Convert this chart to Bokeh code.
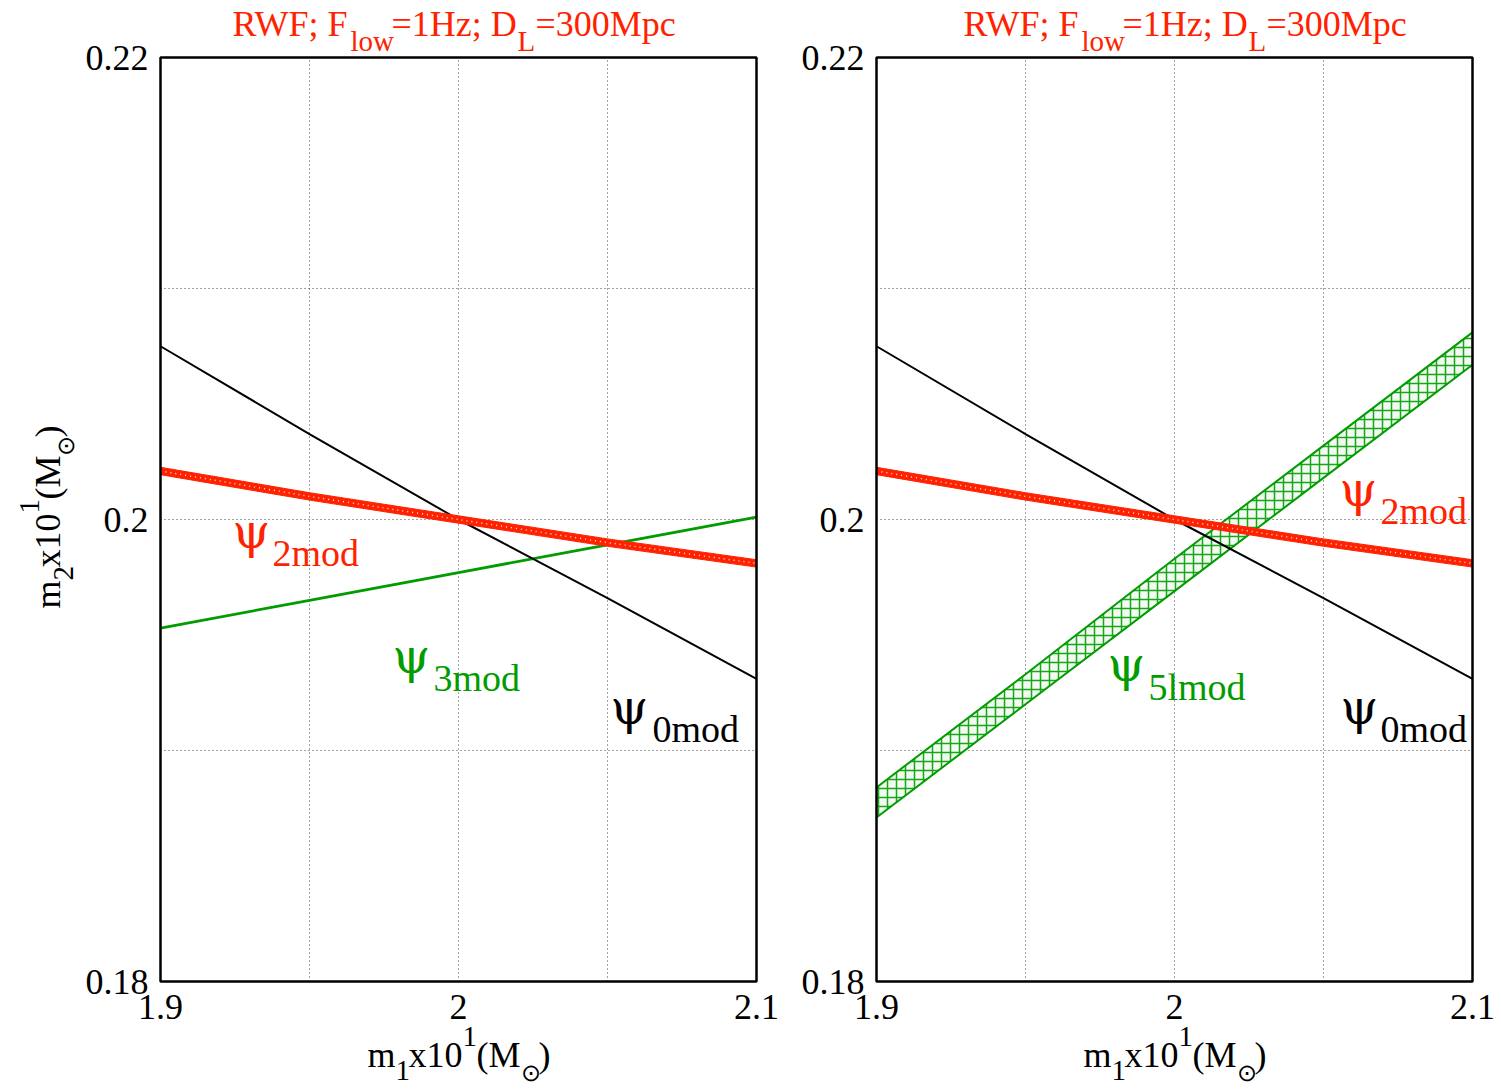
import math
from bokeh.plotting import figure
from bokeh.models import Label, Range1d
from bokeh.core.properties import value
from bokeh.embed import file_html
from bokeh.resources import INLINE

# ---------------- data ----------------
m1 = [1.90, 1.95, 2.00, 2.05, 2.10]
psi0_m2 = [0.2075, 0.2037, 0.2000, 0.1966, 0.1931]
psi2_upper = [0.20226, 0.20116, 0.20016, 0.19916, 0.19826]
psi2_lower = [0.20194, 0.20084, 0.19984, 0.19884, 0.19794]
psi3_m2 = [0.1953, 0.1965, 0.1977, 0.1989, 0.2001]
psi5l_upper = [0.1884, 0.1933, 0.1983, 0.2032, 0.2081]
psi5l_lower = [0.1871, 0.1920, 0.1969, 0.2018, 0.2067]

x_ticks = [1.9, 2.0, 2.1]
x_tick_labels = ["1.9", "2", "2.1"]
x_grid = [1.9, 1.95, 2.0, 2.05, 2.1]
y_ticks = [0.18, 0.20, 0.22]
y_tick_labels = ["0.18", "0.2", "0.22"]
y_grid = [0.18, 0.19, 0.20, 0.21, 0.22]

RED = "#ff2200"
GREEN = "#009c00"
FONT = "Liberation Serif"
PSI_FONT = "DejaVu Serif"

# ---------------- geometry (page pixels) ----------------
CW, CH = 1496, 1088
PANEL_X = {"L": (160, 756), "R": (876, 1472)}
PANEL_Y = (57, 981)
xa, xb = min(x_ticks), max(x_ticks)
ya, yb = min(y_ticks), max(y_ticks)
BASE = 0.37  # label anchor -> baseline correction (fraction of font size)


def xr(name):
    p0, p1 = PANEL_X[name]
    s = (xb - xa) / (p1 - p0)
    return Range1d(xa - p0 * s, xb + (CW - p1) * s)


sy_ = (yb - ya) / (PANEL_Y[1] - PANEL_Y[0])
y_range = Range1d(ya - (CH - PANEL_Y[1]) * sy_, yb + PANEL_Y[0] * sy_)

p = figure(width=CW, height=CH, min_border=0, min_border_left=0, min_border_right=0,
           min_border_top=0, min_border_bottom=0, x_axis_type=None, y_axis_type=None,
           x_range=xr("L"), y_range=y_range,
           extra_x_ranges={"L": xr("L"), "R": xr("R")},
           output_backend="svg", toolbar_location=None)
p.outline_line_color = None
p.background_fill_color = "white"
p.border_fill_color = "white"


def label(text, size, x, ybase, color, font=FONT):
    p.add_layout(Label(x=x, y=CH - (ybase - BASE * size), x_units="screen", y_units="screen",
                       text=text, text_font=font, text_font_size=f"{size}px",
                       text_color=color, text_baseline="alphabetic", text_align="left"))


def vlabel(text, size, xbase, ystart, color):
    p.add_layout(Label(x=xbase - BASE * size, y=CH - ystart, x_units="screen", y_units="screen",
                       angle=math.pi / 2, text=text, text_font=FONT, text_font_size=f"{size}px",
                       text_color=color, text_baseline="alphabetic", text_align="left"))


def panel_frame(name):
    n = len(x_grid)
    m = len(y_grid)
    p.segment(x0=x_grid, x1=x_grid, y0=[ya] * n, y1=[yb] * n, x_range_name=name,
              line_color="#444444", line_dash="1 3", line_width=1)
    p.segment(x0=[xa] * m, x1=[xb] * m, y0=y_grid, y1=y_grid, x_range_name=name,
              line_color="#444444", line_dash="1 3", line_width=1)
    p.text(x=x_ticks, y=[ya] * len(x_ticks), text=x_tick_labels, x_range_name=name,
           text_font=value(FONT), text_font_size=value("36px"), text_color="black",
           text_align="center", text_baseline="top", y_offset=13)
    p.text(x=[xa] * len(y_ticks), y=y_ticks, text=y_tick_labels, x_range_name=name,
           text_font=value(FONT), text_font_size=value("36px"), text_color="black",
           text_align="right", text_baseline="middle", x_offset=-12)


def panel_outline(name):
    p.quad(left=[xa], right=[xb], bottom=[ya], top=[yb], x_range_name=name,
           fill_color=None, line_color="black", line_width=2.5)


def red_band(name):
    p.varea(x=m1, y1=psi2_lower, y2=psi2_upper, fill_color=RED, x_range_name=name)
    p.line(m1, psi2_upper, line_color=RED, line_width=1, x_range_name=name)
    p.line(m1, psi2_lower, line_color=RED, line_width=1, x_range_name=name)
    p.line(m1, [(a + b) / 2 for a, b in zip(psi2_lower, psi2_upper)], line_color="white",
           line_width=1.5, line_dash="1 4", line_alpha=0.85, x_range_name=name)


# axis-label pieces: text, size, advance offset, baseline shift
AXIS_PIECES = [("m", 36, 0, 0), ("1", 29, 28, 13), ("x10", 36, 41, 0), ("1", 29, 95, -21),
               ("(M", 36, 109, 0), ("⊙", 24, 153, 13), (")", 36, 171, 0)]


def texts(dx_title, dx_label):
    for t, s, x, yy in [("RWF; F", 36, 232, 37), ("low", 29, 350, 51),
                        ("=1Hz; D", 36, 391, 37), ("L", 29, 517, 51),
                        ("=300Mpc", 36, 535, 37)]:
        label(t, s, x + dx_title, yy, RED)
    for t, s, off, dy in AXIS_PIECES:
        label(t, s, 367 + dx_label + off, 1068 + dy, "black")


# ---------------- left panel ----------------
panel_frame("L")
p.line(m1, psi3_m2, line_color=GREEN, line_width=2.8, x_range_name="L")
p.line(m1, psi0_m2, line_color="black", line_width=2, x_range_name="L")
red_band("L")
panel_outline("L")
texts(0, 0)
# y axis label (rotated, reads bottom to top)
for t, s, off, dxb in AXIS_PIECES:
    tt = "2" if (off == 28) else t
    vlabel(tt, s, 61 + dxb, 608 - off, "black")

label("ψ", 48, 232, 548, RED, PSI_FONT)
label("2mod", 38, 272, 567, RED)
label("ψ", 48, 392, 673, GREEN, PSI_FONT)
label("3mod", 38, 433, 692, GREEN)
label("ψ", 48, 610, 724, "black", PSI_FONT)
label("0mod", 38, 652, 743, "black")

# ---------------- right panel ----------------
panel_frame("R")
p.varea(x=m1, y1=psi5l_lower, y2=psi5l_upper, fill_color="#f2faf2",
        hatch_pattern="cross", hatch_color=GREEN, hatch_scale=9, hatch_weight=1.5,
        hatch_alpha=0.9, x_range_name="R")
p.line(m1, psi5l_upper, line_color=GREEN, line_width=2, x_range_name="R")
p.line(m1, psi5l_lower, line_color=GREEN, line_width=2, x_range_name="R")
p.line(m1, psi0_m2, line_color="black", line_width=2, x_range_name="R")
red_band("R")
panel_outline("R")
texts(731, 716)

label("ψ", 48, 1339, 506, RED, PSI_FONT)
label("2mod", 38, 1380, 525, RED)
label("ψ", 48, 1107, 681, GREEN, PSI_FONT)
label("5lmod", 38, 1148, 701, GREEN)
label("ψ", 48, 1340, 724, "black", PSI_FONT)
label("0mod", 38, 1380, 743, "black")

open("out.html", "w").write(file_html(p, INLINE))
